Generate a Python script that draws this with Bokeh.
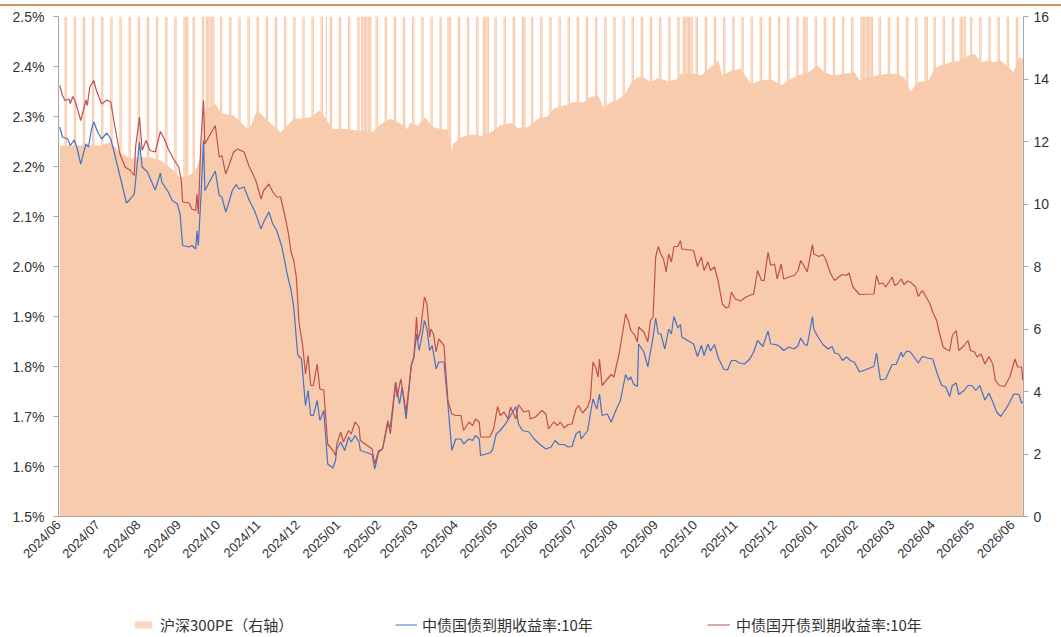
import pandas as pd
from bokeh.plotting import figure
from bokeh.layouts import column
from bokeh.models import (Range1d, LinearAxis, FixedTicker, DatetimeTickFormatter,
                          PrintfTickFormatter, Legend, LegendItem, Div)
from bokeh.embed import file_html
from bokeh.resources import INLINE
from math import pi

# ---------------- data ----------------
BASE = "2024-06-01"                      # day offsets below are days since this date
AXIS_START = "2024-06-10"
AXIS_END = "2026-06-18 12:00"

# 中债国开债到期收益率:10年 (%)
cdb_days = [10, 12, 14, 17, 18, 20, 22, 26, 30, 31,
            33, 36, 38, 42, 46, 49, 52, 56, 60, 64,
            67, 68, 71, 73, 76, 79, 83, 87, 90, 93,
            97, 101, 103, 104, 109, 111, 114, 115, 116, 118,
            120, 121, 129, 132, 134, 137, 139, 143, 146, 151,
            155, 157, 160, 164, 166, 170, 173, 176, 179, 183,
            185, 187, 189, 191, 193, 194, 196, 198, 200, 202,
            204, 207, 209, 212, 215, 219, 221, 222, 225, 227,
            231, 233, 236, 239, 240, 249, 251, 254, 257, 261,
            263, 267, 268, 271, 275, 279, 281, 283, 284, 286,
            289, 291, 293, 294, 296, 298, 300, 304, 307, 310,
            313, 317, 319, 323, 326, 328, 331, 332, 339, 342,
            345, 347, 350, 353, 355, 359, 361, 365, 369, 370,
            374, 379, 382, 384, 388, 391, 393, 396, 399, 402,
            405, 407, 410, 414, 416, 418, 420, 422, 423, 425,
            429, 432, 434, 438, 441, 443, 445, 447, 450, 452,
            453, 457, 460, 462, 464, 466, 468, 470, 472, 474,
            476, 478, 480, 483, 485, 486, 495, 498, 501, 503,
            506, 508, 511, 514, 517, 520, 522, 524, 527, 531,
            535, 541, 544, 547, 549, 552, 554, 557, 559, 562,
            564, 568, 572, 575, 577, 580, 582, 586, 587, 591,
            594, 596, 599, 600, 603, 606, 609, 612, 614, 617,
            621, 622, 633, 635, 637, 640, 642, 647, 649, 651,
            654, 656, 659, 661, 665, 667, 670, 673, 676, 678,
            681, 683, 686, 688, 691, 693, 696, 698, 702, 705,
            707, 710, 712, 715, 718, 721, 724, 726, 729, 733,
            737, 741, 743, 746, 747]
cdb_yield = [2.362, 2.342, 2.332, 2.335, 2.326, 2.340, 2.329, 2.292, 2.333, 2.322,
             2.359, 2.372, 2.352, 2.325, 2.333, 2.329, 2.282, 2.225, 2.199, 2.192,
             2.182, 2.239, 2.299, 2.232, 2.252, 2.232, 2.229, 2.270, 2.255, 2.235,
             2.215, 2.199, 2.172, 2.129, 2.127, 2.115, 2.112, 2.145, 2.105, 2.252,
             2.332, 2.245, 2.282, 2.219, 2.222, 2.185, 2.199, 2.229, 2.235, 2.229,
             2.199, 2.189, 2.172, 2.135, 2.152, 2.165, 2.149, 2.139, 2.139, 2.092,
             2.065, 2.029, 2.012, 1.979, 1.890, 1.872, 1.839, 1.785, 1.822, 1.762,
             1.762, 1.805, 1.755, 1.753, 1.645, 1.632, 1.622, 1.645, 1.669, 1.649,
             1.672, 1.665, 1.689, 1.679, 1.652, 1.635, 1.605, 1.632, 1.635, 1.692,
             1.665, 1.769, 1.739, 1.775, 1.709, 1.802, 1.819, 1.899, 1.852, 1.872,
             1.939, 1.925, 1.859, 1.875, 1.865, 1.829, 1.855, 1.842, 1.732, 1.705,
             1.702, 1.702, 1.672, 1.689, 1.682, 1.695, 1.689, 1.659, 1.659, 1.675,
             1.720, 1.702, 1.709, 1.695, 1.719, 1.695, 1.724, 1.709, 1.712, 1.695,
             1.699, 1.712, 1.705, 1.675, 1.689, 1.682, 1.689, 1.677, 1.684, 1.685,
             1.715, 1.722, 1.707, 1.719, 1.735, 1.809, 1.799, 1.779, 1.815, 1.762,
             1.775, 1.784, 1.779, 1.825, 1.872, 1.905, 1.892, 1.872, 1.862, 1.849,
             1.879, 1.869, 1.849, 1.892, 1.899, 2.019, 2.040, 2.025, 2.015, 1.989,
             2.025, 2.009, 2.040, 2.040, 2.052, 2.035, 2.032, 2.000, 2.019, 1.992,
             2.009, 1.992, 1.999, 1.969, 1.925, 1.917, 1.919, 1.949, 1.935, 1.931,
             1.939, 1.945, 1.992, 1.972, 1.972, 2.029, 2.002, 2.005, 1.975, 2.005,
             1.975, 1.979, 1.982, 1.992, 2.012, 1.999, 1.989, 2.044, 2.025, 2.020,
             2.024, 2.015, 1.992, 1.985, 1.972, 1.979, 1.984, 1.982, 1.987, 1.959,
             1.947, 1.944, 1.945, 1.982, 1.965, 1.967, 1.959, 1.979, 1.962, 1.965,
             1.975, 1.964, 1.971, 1.969, 1.959, 1.940, 1.952, 1.939, 1.925, 1.909,
             1.892, 1.869, 1.839, 1.835, 1.831, 1.862, 1.872, 1.832, 1.842, 1.852,
             1.832, 1.829, 1.819, 1.825, 1.805, 1.820, 1.805, 1.772, 1.762, 1.760,
             1.779, 1.815, 1.799, 1.799, 1.772]

# 中债国债到期收益率:10年 (%)
gov_days = [10, 12, 16, 18, 21, 23, 26, 30, 32, 34,
            36, 39, 42, 46, 49, 51, 55, 59, 61, 64,
            67, 69, 71, 73, 77, 81, 83, 87, 88, 93,
            96, 100, 102, 104, 109, 111, 114, 115, 116, 118,
            120, 121, 129, 132, 134, 137, 139, 142, 145, 147,
            151, 155, 159, 164, 166, 170, 173, 176, 180, 184,
            187, 189, 192, 193, 195, 198, 200, 202, 204, 207,
            209, 212, 215, 219, 221, 222, 225, 228, 231, 233,
            236, 239, 240, 249, 251, 254, 257, 261, 263, 267,
            270, 272, 275, 279, 281, 283, 285, 287, 289, 291,
            293, 295, 298, 300, 304, 307, 310, 313, 317, 319,
            323, 326, 328, 331, 332, 339, 341, 344, 347, 351,
            355, 359, 361, 364, 369, 373, 377, 382, 386, 389,
            392, 396, 399, 402, 405, 408, 409, 414, 416, 418,
            421, 423, 425, 429, 432, 435, 439, 443, 445, 447,
            449, 452, 453, 457, 460, 464, 466, 468, 470, 473,
            476, 478, 480, 483, 485, 486, 495, 498, 501, 503,
            506, 508, 511, 514, 518, 521, 524, 527, 530, 534,
            538, 541, 544, 548, 552, 554, 558, 561, 564, 568,
            572, 575, 577, 580, 582, 586, 587, 590, 594, 598,
            601, 603, 606, 609, 612, 615, 618, 622, 633, 635,
            638, 642, 647, 650, 654, 655, 658, 661, 667, 670,
            674, 678, 682, 685, 688, 691, 693, 696, 698, 702,
            705, 708, 711, 714, 718, 721, 724, 727, 730, 734,
            737, 740, 744, 746, 747]
gov_yield = [2.279, 2.259, 2.255, 2.242, 2.253, 2.239, 2.205, 2.245, 2.239, 2.272,
             2.289, 2.269, 2.255, 2.267, 2.255, 2.235, 2.192, 2.149, 2.127, 2.135,
             2.145, 2.199, 2.249, 2.199, 2.189, 2.165, 2.153, 2.187, 2.169, 2.149,
             2.132, 2.125, 2.105, 2.042, 2.039, 2.042, 2.035, 2.071, 2.042, 2.139,
             2.252, 2.152, 2.191, 2.142, 2.139, 2.109, 2.125, 2.152, 2.164, 2.155,
             2.159, 2.132, 2.112, 2.075, 2.089, 2.109, 2.085, 2.072, 2.039, 1.985,
             1.952, 1.919, 1.825, 1.820, 1.815, 1.722, 1.752, 1.702, 1.702, 1.732,
             1.692, 1.712, 1.605, 1.597, 1.612, 1.635, 1.649, 1.632, 1.659, 1.649,
             1.662, 1.649, 1.632, 1.624, 1.595, 1.629, 1.635, 1.685, 1.679, 1.769,
             1.725, 1.759, 1.695, 1.802, 1.819, 1.865, 1.832, 1.859, 1.892, 1.875,
             1.832, 1.842, 1.795, 1.809, 1.809, 1.725, 1.632, 1.655, 1.655, 1.645,
             1.655, 1.652, 1.662, 1.655, 1.622, 1.627, 1.632, 1.665, 1.672, 1.685,
             1.702, 1.720, 1.685, 1.672, 1.669, 1.655, 1.645, 1.635, 1.639, 1.652,
             1.644, 1.644, 1.639, 1.640, 1.665, 1.671, 1.655, 1.672, 1.705, 1.735,
             1.715, 1.745, 1.702, 1.705, 1.689, 1.709, 1.732, 1.784, 1.773, 1.779,
             1.765, 1.760, 1.845, 1.829, 1.799, 1.859, 1.897, 1.865, 1.865, 1.835,
             1.875, 1.865, 1.900, 1.877, 1.884, 1.859, 1.845, 1.820, 1.842, 1.822,
             1.845, 1.831, 1.844, 1.817, 1.795, 1.793, 1.812, 1.812, 1.807, 1.805,
             1.815, 1.829, 1.852, 1.840, 1.871, 1.845, 1.844, 1.840, 1.832, 1.839,
             1.835, 1.842, 1.857, 1.844, 1.842, 1.900, 1.875, 1.860, 1.844, 1.835,
             1.840, 1.827, 1.825, 1.812, 1.819, 1.812, 1.809, 1.789, 1.800, 1.827,
             1.773, 1.775, 1.804, 1.804, 1.829, 1.819, 1.831, 1.829, 1.807, 1.820,
             1.817, 1.815, 1.782, 1.762, 1.759, 1.740, 1.762, 1.767, 1.744, 1.752,
             1.762, 1.762, 1.752, 1.762, 1.733, 1.747, 1.729, 1.709, 1.700, 1.715,
             1.729, 1.745, 1.744, 1.727, 1.729]

# 沪深300PE (右轴)
pe_days = [10, 26, 41, 49, 56, 64, 72, 79, 87, 97,
           102, 108, 112, 115, 118, 120, 121, 129, 132, 134,
           143, 154, 156, 161, 169, 179, 189, 194, 202, 209,
           219, 230, 236, 240, 249, 256, 263, 271, 276, 278,
           284, 289, 296, 301, 307, 310, 311, 317, 324, 330,
           332, 340, 347, 355, 360, 368, 376, 383, 388, 396,
           403, 411, 416, 422, 426, 432, 437, 442, 447, 452,
           457, 462, 468, 475, 483, 485, 498, 501, 508, 514,
           517, 524, 531, 539, 547, 554, 562, 567, 575, 583,
           590, 595, 602, 610, 618, 622, 635, 644, 651, 656,
           661, 667, 675, 679, 684, 692, 700, 705, 710, 715,
           721, 725, 730, 736, 740, 744, 747]
pe_value = [11.87, 11.87, 11.87, 11.98, 11.66, 11.45, 11.50, 11.50, 11.40, 11.07,
            10.85, 10.90, 11.00, 11.18, 11.60, 12.40, 13.00, 13.20, 13.00, 12.90,
            12.83, 12.40, 12.50, 13.00, 12.67, 12.30, 12.73, 12.73, 12.78, 13.00,
            12.40, 12.40, 12.35, 12.35, 12.30, 12.57, 12.73, 12.57, 12.40, 12.60,
            12.51, 12.78, 12.46, 12.40, 12.37, 11.66, 11.93, 12.14, 12.22, 12.22,
            12.16, 12.30, 12.51, 12.60, 12.44, 12.46, 12.73, 12.80, 13.05, 13.15,
            13.26, 13.26, 13.42, 13.47, 13.10, 13.26, 13.34, 13.47, 13.85, 14.06,
            14.06, 13.90, 14.04, 13.93, 14.00, 14.17, 14.17, 14.11, 14.38, 14.59,
            14.11, 14.27, 14.33, 13.85, 13.95, 14.00, 13.79, 13.95, 14.11, 14.22,
            14.43, 14.22, 14.11, 14.17, 14.22, 13.97, 14.11, 14.17, 14.17, 14.06,
            13.61, 13.90, 13.95, 14.33, 14.43, 14.54, 14.59, 14.75, 14.81, 14.54,
            14.59, 14.54, 14.59, 14.38, 14.22, 14.70, 14.65]

# market-closed weekdays (holidays); weekends are closed as well
holidays = ["2024-06-10", "2024-09-16", "2024-09-17",
            "2024-10-01", "2024-10-02", "2024-10-03", "2024-10-04", "2024-10-07",
            "2025-01-01", "2025-01-28", "2025-01-29", "2025-01-30", "2025-01-31",
            "2025-02-03", "2025-02-04", "2025-04-04", "2025-05-01", "2025-05-02",
            "2025-05-05", "2025-06-02", "2025-10-01", "2025-10-02", "2025-10-03",
            "2025-10-06", "2025-10-07", "2025-10-08", "2026-01-01", "2026-01-02",
            "2026-02-16", "2026-02-17", "2026-02-18", "2026-02-19", "2026-02-20",
            "2026-02-23", "2026-04-06", "2026-05-01", "2026-05-04", "2026-05-05"]

left_ticks = [1.5, 1.6, 1.7, 1.8, 1.9, 2.0, 2.1, 2.2, 2.3, 2.4, 2.5]
right_ticks = [0, 2, 4, 6, 8, 10, 12, 14, 16]
PE_TOP = 16

# ---------------- build ----------------
base = pd.Timestamp(BASE)
def to_dates(days):
    return base + pd.to_timedelta(days, unit="D")

cdb_x = to_dates(cdb_days)
gov_x = to_dates(gov_days)
pe_x = to_dates(pe_days)

cal = pd.date_range(AXIS_START, pd.Timestamp(AXIS_END).normalize(), freq="D")
hol = set(pd.to_datetime(holidays))
closed = [d for d in cal if d.dayofweek >= 5 or d in hol]

tick_dates = pd.date_range(AXIS_START, periods=25, freq=pd.DateOffset(months=1))
tick_ms = [float(t.value // 10**6) for t in tick_dates]

PEACH = "#F8CBAD"
BLUE = "#4472C4"
RED = "#C0504D"
TXT = "#333333"
AX = "#A6A6A6"

W = 1061
RULE_H = 6
MAIN_H = 585
LEG_H = 46

p = figure(width=W, height=MAIN_H, x_axis_type="datetime",
           x_range=Range1d(pd.Timestamp(AXIS_START), pd.Timestamp(AXIS_END)),
           y_range=Range1d(1.5, 2.5),
           output_backend="svg", toolbar_location=None,
           min_border_left=58, min_border_right=38,
           min_border_top=10, min_border_bottom=75)
p.extra_y_ranges = {"pe": Range1d(0, PE_TOP)}
p.xgrid.visible = False
p.ygrid.visible = False
p.outline_line_color = None
p.background_fill_color = "white"
p.border_fill_color = "white"

# PE area + closed-day columns to the top
pe_r = p.varea(x=pe_x, y1=0, y2=pe_value, y_range_name="pe", fill_color=PEACH)
p.vbar(x=closed, width=0.9 * 86400000, bottom=0, top=PE_TOP, y_range_name="pe",
       fill_color=PEACH, line_color=None)

p.line(gov_x, gov_yield, line_color=BLUE, line_width=1.2)
p.line(cdb_x, cdb_yield, line_color=RED, line_width=1.2)

# axes
xa = p.xaxis[0]
xa.ticker = FixedTicker(ticks=tick_ms)
xa.formatter = DatetimeTickFormatter(days="%Y/%m", months="%Y/%m", years="%Y/%m",
                                     hours="%Y/%m", minutes="%Y/%m")
xa.major_label_orientation = pi / 4
xa.major_tick_out = 0
xa.major_tick_in = 0
xa.minor_tick_out = 0
xa.minor_tick_in = 0
xa.axis_line_color = AX
xa.major_label_text_font = "Liberation Sans"
xa.major_label_text_font_size = "13px"
xa.major_label_text_color = TXT
xa.major_label_standoff = 6

ya = p.yaxis[0]
ya.ticker = FixedTicker(ticks=left_ticks)
ya.formatter = PrintfTickFormatter(format="%.1f%%")
ya.major_tick_out = 5
ya.major_tick_in = 0
ya.minor_tick_out = 0
ya.major_tick_line_color = AX
ya.axis_line_color = AX
ya.major_label_text_font = "Liberation Sans"
ya.major_label_text_font_size = "14px"
ya.major_label_text_color = TXT
ya.major_label_standoff = 9

ra = LinearAxis(y_range_name="pe", ticker=FixedTicker(ticks=right_ticks))
ra.major_tick_out = 5
ra.major_tick_in = 0
ra.minor_tick_out = 0
ra.major_tick_line_color = AX
ra.axis_line_color = AX
ra.major_label_text_font = "Liberation Sans"
ra.major_label_text_font_size = "14px"
ra.major_label_text_color = TXT
ra.major_label_standoff = 5
p.add_layout(ra, "right")

# ---------------- legend strip (separate small figure) ----------------
# The key renderers reuse the series; this strip's ranges keep them out of view,
# so only their legend swatches show.
lf = figure(width=W, height=LEG_H, x_range=Range1d(0, 1), y_range=Range1d(0, 1),
            output_backend="svg", toolbar_location=None,
            x_axis_location=None, y_axis_location=None,
            min_border=0, min_border_left=0, min_border_right=0,
            min_border_top=0, min_border_bottom=0)
lf.xgrid.visible = False
lf.ygrid.visible = False
lf.outline_line_color = None
lf.background_fill_color = "white"
lf.border_fill_color = "white"

k_pe = lf.varea(x=pe_x, y1=0, y2=pe_value, fill_color=PEACH, fill_alpha=0.72)
k_gov = lf.line(gov_x, gov_yield, line_color=BLUE, line_width=1.0)
k_cdb = lf.line(cdb_x, cdb_yield, line_color=RED, line_width=1.0)

FRAME_LEFT = 58   # the strip's frame is aligned with the main plot's frame
legend_specs = [("沪深300PE（右轴）", k_pe, 132, 22, 6),
                ("中债国债到期收益率:10年", k_gov, 395, 22, 5),
                ("中债国开债到期收益率:10年", k_cdb, 707, 23, 6)]
for label, rend, x0, gw, so in legend_specs:
    lg = Legend(items=[LegendItem(label=label, renderers=[rend])],
                location=(x0 - FRAME_LEFT, 2), orientation="horizontal",
                glyph_width=gw, glyph_height=9, label_height=16,
                label_standoff=so, padding=0, margin=0, spacing=0,
                border_line_color=None, background_fill_alpha=0,
                label_text_font="Noto Sans CJK SC", label_text_font_size="15px",
                label_text_color=TXT)
    lf.add_layout(lg, "center")

top_rule = Div(text="", width=W, height=RULE_H, margin=(0, 0, 0, 0),
               styles={"border-bottom": "2px solid #C9975B", "box-sizing": "border-box"})

layout = column(top_rule, p, lf, spacing=0)
open("out.html", "w").write(file_html(layout, INLINE))
